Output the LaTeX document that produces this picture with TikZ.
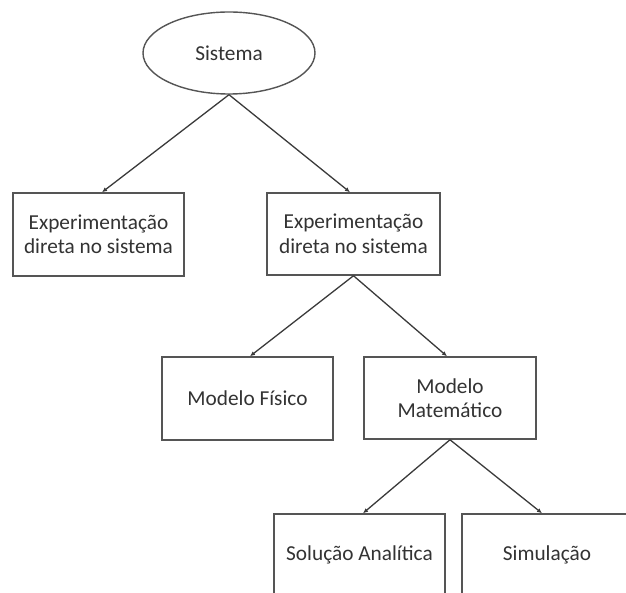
\documentclass[tikz,border=0pt]{standalone}
\usepackage{fontspec}
\setmainfont{Carlito}
\usetikzlibrary{shapes.geometric,arrows.meta}
\definecolor{edgegray}{HTML}{3A3A3A}
\definecolor{boxgray}{HTML}{555555}
\definecolor{txtgray}{HTML}{333333}
\tikzset{
  box/.style={draw=boxgray, line width=1.5pt, rectangle, fill=white,
    minimum width=171pt, minimum height=83pt, inner sep=0pt,
    align=center, text=txtgray, font=\fontsize{21.3}{24.5}\selectfont},
  oval/.style={draw=boxgray, line width=1.4pt, ellipse, fill=white,
    minimum width=172pt, minimum height=82pt, inner sep=0pt,
    text=txtgray, font=\fontsize{21.3}{24.5}\selectfont},
  link/.style={draw=edgegray, line width=1.3pt, -{Latex[length=5pt,width=4.5pt]}}
}
\begin{document}
\begin{tikzpicture}[x=1pt,y=-1pt]
\useasboundingbox (0,0) rectangle (626,593);
\clip (0,0) rectangle (626,593);
\node[oval] (sis) at (229,53) {Sistema};
\node[box] (b1) at (98.5,234.5) {Experimentação\\direta no sistema};
\node[box, minimum width=173pt, minimum height=82pt] (b2) at (353.5,234) {Experimentação\\direta no sistema};
\node[box] (b3) at (247.5,398.5) {Modelo Físico};
\node[box, minimum width=172pt, minimum height=82pt] (b4) at (450,398) {Modelo\\Matemático};
\node[box, minimum height=82pt] (b5) at (359.5,555) {Solução Analítica};
\node[box, minimum width=170pt, minimum height=82pt] (b6) at (547,555) {Simulação};
\draw[link] (sis.south) -- ([xshift=3.5pt]b1.north);
\draw[link] (sis.south) -- ([xshift=-3.5pt]b2.north);
\draw[link] (b2.south) -- ([xshift=2.5pt]b3.north);
\draw[link] (b2.south) -- ([xshift=-3pt]b4.north);
\draw[link] (b4.south) -- ([xshift=3.5pt]b5.north);
\draw[link] (b4.south) -- ([xshift=-5pt]b6.north);
\end{tikzpicture}
\end{document}
